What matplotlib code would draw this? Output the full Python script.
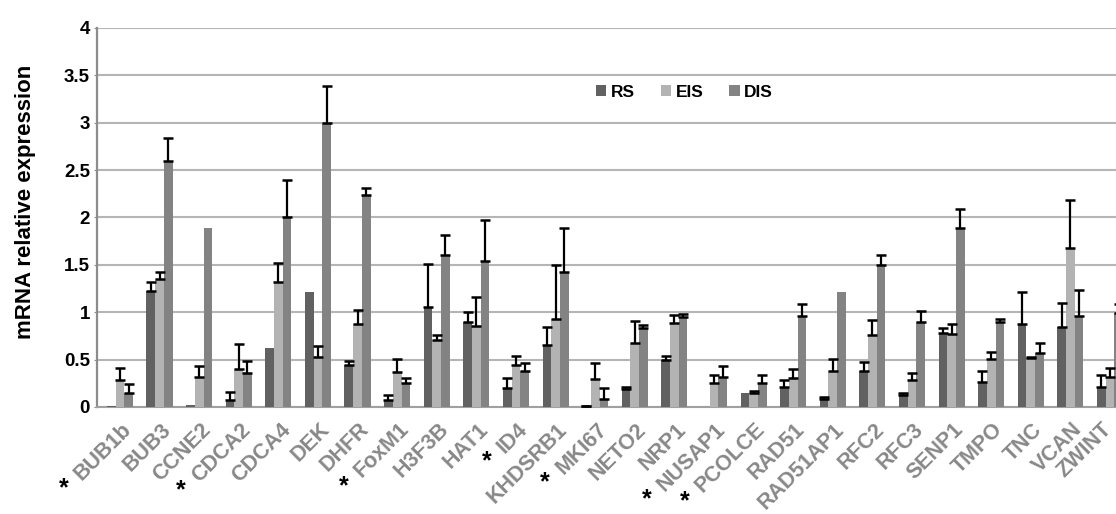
import numpy as np
import matplotlib
matplotlib.use("Agg")
import matplotlib.pyplot as plt

plt.rcParams['font.family'] = ['Liberation Sans', 'DejaVu Sans']

# data
genes = ['BUB1b', 'BUB3', 'CCNE2', 'CDCA2', 'CDCA4', 'DEK', 'DHFR', 'FoxM1',
         'H3F3B', 'HAT1', 'ID4', 'KHDSRB1', 'MKI67', 'NETO2', 'NRP1', 'NUSAP1',
         'PCOLCE', 'RAD51', 'RAD51AP1', 'RFC2', 'RFC3', 'SENP1', 'TMPO', 'TNC',
         'VCAN', 'ZWINT']
starred = ['BUB1b', 'CDCA2', 'FoxM1', 'ID4', 'MKI67', 'NUSAP1', 'PCOLCE']

rs = [0.01, 1.22, 0.02, 0.07, 0.62, 1.21, 0.44, 0.07, 1.06, 0.90, 0.20, 0.65, 0.01,
      0.19, 0.50, 0.005, 0.15, 0.21, 0.08, 0.38, 0.13, 0.78, 0.26, 0.88, 0.84, 0.21]
rs_err = [np.nan, 0.10, np.nan, 0.09, np.nan, np.nan, 0.05, 0.06, 0.45, 0.10, 0.11,
          0.19, 0.005, 0.02, 0.04, np.nan, np.nan, 0.07, 0.03, 0.09, 0.02, 0.05,
          0.12, 0.33, 0.26, 0.13]
eis = [0.285, 1.35, 0.32, 0.40, 1.32, 0.53, 0.88, 0.37, 0.71, 0.85, 0.44, 0.93, 0.30,
       0.67, 0.89, 0.25, 0.15, 0.31, 0.38, 0.76, 0.28, 0.77, 0.51, 0.52, 1.68, 0.32]
eis_err = [0.125, 0.07, 0.11, 0.26, 0.20, 0.11, 0.14, 0.14, 0.05, 0.31, 0.10, 0.57,
           0.16, 0.24, 0.08, 0.09, 0.02, 0.09, 0.13, 0.16, 0.08, 0.11, 0.07, 0.01,
           0.50, 0.09]
dis = [0.15, 2.60, 1.89, 0.36, 2.00, 3.00, 2.24, 0.25, 1.60, 1.54, 0.38, 1.42, 0.08,
       0.83, 0.95, 0.32, 0.25, 0.96, 1.21, 1.50, 0.90, 1.89, 0.90, 0.57, 0.96, 0.99]
dis_err = [0.09, 0.24, np.nan, 0.13, 0.40, 0.39, 0.07, 0.06, 0.21, 0.43, 0.08, 0.47,
           0.12, 0.03, 0.03, 0.11, 0.09, 0.13, np.nan, 0.10, 0.11, 0.20, 0.03, 0.11,
           0.27, 0.10]

series = [('RS', rs, rs_err, '#616161'),
          ('EIS', eis, eis_err, '#b3b3b3'),
          ('DIS', dis, dis_err, '#838383')]

fig = plt.figure(figsize=(11.16, 5.14), dpi=100)
ax = fig.add_axes([0.0869, 0.2082, 0.9283, 0.7374])

x = np.arange(len(genes))
w = 0.22
for k, (name, vals, errs, col) in enumerate(series):
    xs = x + (k - 1) * w
    vals = np.array(vals)
    errs = np.array(errs)
    ax.bar(xs, vals, w, color=col, label=name, zorder=3)
    ok = ~np.isnan(errs)
    ax.errorbar(xs[ok], vals[ok], yerr=[np.zeros(ok.sum()), errs[ok]], fmt='none',
                ecolor='black', elinewidth=1.6, capsize=3.5, capthick=1.8, zorder=4)

ax.set_xlim(-0.58, 25.58)
ax.set_ylim(0, 4)
ax.set_yticks(np.arange(0, 4.01, 0.5))
ax.set_yticklabels(['0', '0.5', '1', '1.5', '2', '2.5', '3', '3.5', '4'],
                   fontsize=13.5, fontweight='bold')
ax.yaxis.grid(True, color='#b5b5b5', lw=1.5, zorder=0)
ax.set_axisbelow(True)
for s in ['top', 'right']:
    ax.spines[s].set_visible(False)
ax.spines['left'].set_color('#8c8c8c')
ax.spines['left'].set_linewidth(1.6)
ax.spines['bottom'].set_color('#a0a0a0')
ax.spines['bottom'].set_linewidth(1.5)
ax.tick_params(axis='y', length=2, pad=3, color='#8c8c8c')

# rotated names end just right of the group centre (last one pulled in to fit)
shift = np.full(len(genes), 0.22)
shift[-1] = -0.05
ax.set_xticks(x + shift)
ax.set_xticklabels(genes, rotation=45, ha='right', va='center', rotation_mode='anchor',
                   fontsize=15.5, fontweight='bold', color='#888888')
ax.tick_params(axis='x', length=0, pad=14)

fig.text(26 / 1116, 1 - 202 / 514, 'mRNA relative expression', rotation=90,
         ha='center', va='center', fontsize=16, fontweight='bold')

ax.legend(loc='center', bbox_to_anchor=(0.567, 0.831), ncol=3, frameon=False,
          prop={'size': 12.5, 'weight': 'bold'}, handlelength=0.6, handleheight=0.6,
          handletextpad=0.25, columnspacing=1.5)

# black asterisks in front of some gene names
fig.canvas.draw()
inv = fig.transFigure.inverted()
for lab in ax.get_xticklabels():
    if lab.get_text() in starred:
        bb = lab.get_window_extent()
        px, py = inv.transform((bb.x0 - 7, bb.y0 - 4))
        fig.text(px, py, '*', ha='center', va='center', fontsize=18,
                 fontweight='bold', color='black')

fig.savefig('out.png', dpi=100)
